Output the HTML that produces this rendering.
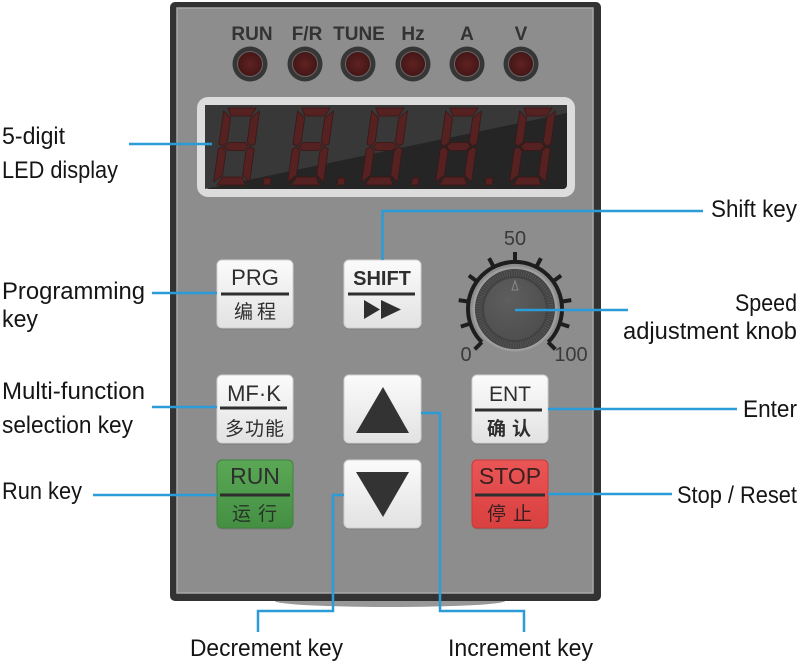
<!DOCTYPE html>
<html>
<head>
<meta charset="utf-8">
<style>
html,body{margin:0;padding:0;background:#fff;}
svg{display:block;}
.lbl{font-family:"Liberation Sans","Noto Sans CJK SC",sans-serif;font-size:24px;fill:#151515;}
.top{font-family:"Liberation Sans",sans-serif;font-size:19px;font-weight:bold;fill:#333;}
.kt{font-family:"Liberation Sans","Noto Sans CJK SC",sans-serif;fill:#2e2e2e;}
.cn{font-family:"Liberation Sans","Noto Sans CJK SC",sans-serif;fill:#2e2e2e;font-size:19px;}
.sc{font-family:"Liberation Sans",sans-serif;font-size:20px;fill:#3a3a3a;}
.seg polygon,.seg rect{fill:#552121;stroke:#3c1616;stroke-width:0.8;}
.bl{stroke:#2b9cd8;stroke-width:2.5;fill:none;}
</style>
</head>
<body>
<svg width="800" height="662" viewBox="0 0 800 662" xmlns="http://www.w3.org/2000/svg">
<defs>
<linearGradient id="kw" x1="0" y1="0" x2="0" y2="1">
<stop offset="0" stop-color="#fbfbfb"/><stop offset="1" stop-color="#e2e2e2"/>
</linearGradient>
<linearGradient id="kg" x1="0" y1="0" x2="0" y2="1">
<stop offset="0" stop-color="#5aa856"/><stop offset="1" stop-color="#458f43"/>
</linearGradient>
<linearGradient id="kr" x1="0" y1="0" x2="0" y2="1">
<stop offset="0" stop-color="#ea5555"/><stop offset="1" stop-color="#d94040"/>
</linearGradient>
<radialGradient id="led" cx="0.5" cy="0.5" r="0.5">
<stop offset="0" stop-color="#602222"/><stop offset="1" stop-color="#441616"/>
</radialGradient>
<radialGradient id="knob" cx="0.4" cy="0.35" r="0.7">
<stop offset="0" stop-color="#5e5e5e"/><stop offset="1" stop-color="#4e4e4e"/>
</radialGradient>
</defs>

<!-- panel shadow -->
<ellipse cx="390" cy="601" rx="115" ry="6" fill="#444" opacity="0.55"/>
<!-- panel -->
<rect x="170" y="2" width="431" height="599" rx="5" fill="#333"/>
<rect x="177" y="8" width="416" height="585" fill="#8d8d8d" stroke="#a9a9a9" stroke-width="1.5"/>

<!-- top indicator labels -->
<text class="top" x="252" y="40" text-anchor="middle">RUN</text>
<text class="top" x="307" y="40" text-anchor="middle">F/R</text>
<text class="top" x="359" y="40" text-anchor="middle">TUNE</text>
<text class="top" x="413" y="40" text-anchor="middle">Hz</text>
<text class="top" x="467" y="40" text-anchor="middle">A</text>
<text class="top" x="521" y="40" text-anchor="middle">V</text>

<!-- LEDs -->
<g>
<circle cx="250" cy="64" r="17.5" fill="#363636"/><circle cx="250" cy="64" r="12.5" fill="url(#led)" stroke="#666" stroke-width="1"/>
<circle cx="305" cy="64" r="17.5" fill="#363636"/><circle cx="305" cy="64" r="12.5" fill="url(#led)" stroke="#666" stroke-width="1"/>
<circle cx="358" cy="64" r="17.5" fill="#363636"/><circle cx="358" cy="64" r="12.5" fill="url(#led)" stroke="#666" stroke-width="1"/>
<circle cx="413" cy="64" r="17.5" fill="#363636"/><circle cx="413" cy="64" r="12.5" fill="url(#led)" stroke="#666" stroke-width="1"/>
<circle cx="467" cy="64" r="17.5" fill="#363636"/><circle cx="467" cy="64" r="12.5" fill="url(#led)" stroke="#666" stroke-width="1"/>
<circle cx="521" cy="64" r="17.5" fill="#363636"/><circle cx="521" cy="64" r="12.5" fill="url(#led)" stroke="#666" stroke-width="1"/>
</g>

<!-- display -->
<rect x="197" y="97" width="378" height="100" rx="11" fill="#dcdcdc"/>
<rect x="205" y="105" width="362" height="84" rx="4" fill="#252525"/>
<polygon points="205,105 567,105 567,113 205,189" fill="#383838"/>

<g class="seg" transform="translate(224,108) skewX(-8)">
<polygon points="4,0 32,0 28,8 8,8"/><polygon points="36,3 36,36 32,38 28,34 28,10"/><polygon points="36,41 36,74 28,67 28,43 32,39"/><polygon points="8,69 28,69 32,77 4,77"/><polygon points="0,41 4,39 8,43 8,67 0,74"/><polygon points="0,3 8,10 8,34 4,38 0,36"/><polygon points="6,38.5 10,34.5 26,34.5 30,38.5 26,42.5 10,42.5"/><rect x="50" y="70" width="7" height="7"/>
</g>
<g class="seg" transform="translate(298,108) skewX(-8)">
<polygon points="4,0 32,0 28,8 8,8"/><polygon points="36,3 36,36 32,38 28,34 28,10"/><polygon points="36,41 36,74 28,67 28,43 32,39"/><polygon points="8,69 28,69 32,77 4,77"/><polygon points="0,41 4,39 8,43 8,67 0,74"/><polygon points="0,3 8,10 8,34 4,38 0,36"/><polygon points="6,38.5 10,34.5 26,34.5 30,38.5 26,42.5 10,42.5"/><rect x="50" y="70" width="7" height="7"/>
</g>
<g class="seg" transform="translate(372,108) skewX(-8)">
<polygon points="4,0 32,0 28,8 8,8"/><polygon points="36,3 36,36 32,38 28,34 28,10"/><polygon points="36,41 36,74 28,67 28,43 32,39"/><polygon points="8,69 28,69 32,77 4,77"/><polygon points="0,41 4,39 8,43 8,67 0,74"/><polygon points="0,3 8,10 8,34 4,38 0,36"/><polygon points="6,38.5 10,34.5 26,34.5 30,38.5 26,42.5 10,42.5"/><rect x="50" y="70" width="7" height="7"/>
</g>
<g class="seg" transform="translate(446,108) skewX(-8)">
<polygon points="4,0 32,0 28,8 8,8"/><polygon points="36,3 36,36 32,38 28,34 28,10"/><polygon points="36,41 36,74 28,67 28,43 32,39"/><polygon points="8,69 28,69 32,77 4,77"/><polygon points="0,41 4,39 8,43 8,67 0,74"/><polygon points="0,3 8,10 8,34 4,38 0,36"/><polygon points="6,38.5 10,34.5 26,34.5 30,38.5 26,42.5 10,42.5"/><rect x="50" y="70" width="7" height="7"/>
</g>
<g class="seg" transform="translate(520,108) skewX(-8)">
<polygon points="4,0 32,0 28,8 8,8"/><polygon points="36,3 36,36 32,38 28,34 28,10"/><polygon points="36,41 36,74 28,67 28,43 32,39"/><polygon points="8,69 28,69 32,77 4,77"/><polygon points="0,41 4,39 8,43 8,67 0,74"/><polygon points="0,3 8,10 8,34 4,38 0,36"/><polygon points="6,38.5 10,34.5 26,34.5 30,38.5 26,42.5 10,42.5"/>
</g>

<!-- keys: shadows -->
<g fill="#707070" opacity="0.6">
<rect x="217" y="261.5" width="76" height="68" rx="5"/>
<rect x="344" y="261.5" width="77" height="68" rx="5"/>
<rect x="217" y="376.5" width="76" height="68" rx="5"/>
<rect x="344" y="376.5" width="77" height="68" rx="5"/>
<rect x="472" y="376.5" width="76" height="68" rx="5"/>
<rect x="217" y="461.5" width="76" height="68" rx="5"/>
<rect x="344" y="461.5" width="77" height="68" rx="5"/>
<rect x="472" y="461.5" width="76" height="68" rx="5"/>
</g>
<g stroke="#cfcfcf" stroke-width="1">
<rect x="217" y="260" width="76" height="68" rx="5" fill="url(#kw)"/>
<rect x="344" y="260" width="77" height="68" rx="5" fill="url(#kw)"/>
<rect x="217" y="375" width="76" height="68" rx="5" fill="url(#kw)"/>
<rect x="344" y="375" width="77" height="68" rx="5" fill="url(#kw)"/>
<rect x="472" y="375" width="76" height="68" rx="5" fill="url(#kw)"/>
<rect x="344" y="460" width="77" height="68" rx="5" fill="url(#kw)"/>
</g>
<rect x="217" y="460" width="76" height="68" rx="5" fill="url(#kg)" stroke="#3f833c" stroke-width="1"/>
<rect x="472" y="460" width="76" height="68" rx="5" fill="url(#kr)" stroke="#c83a3a" stroke-width="1"/>

<!-- key dividers -->
<g fill="#2e2e2e">
<rect x="221" y="292.5" width="68" height="3"/>
<rect x="348" y="292.5" width="67" height="3"/>
<rect x="220" y="406.5" width="67" height="3"/>
<rect x="475" y="408.5" width="67" height="3"/>
<rect x="220" y="493.5" width="70" height="3"/>
<rect x="475" y="493.5" width="70" height="3"/>
</g>

<!-- key text -->
<text class="kt" x="255" y="285" font-size="22" text-anchor="middle">PRG</text>
<text class="cn" x="257" y="318" text-anchor="middle" letter-spacing="4">编程</text>
<text class="kt" x="382" y="285" font-size="20" font-weight="bold" text-anchor="middle">SHIFT</text>
<polygon points="364,300 380,309.5 364,319" fill="#2e2e2e"/>
<polygon points="381,300 401,309.5 381,319" fill="#2e2e2e"/>
<text class="kt" x="254" y="401" font-size="22" text-anchor="middle">MF·K</text>
<text class="cn" x="255" y="435" text-anchor="middle" font-size="20" letter-spacing="1">多功能</text>
<text class="kt" x="510" y="401" font-size="21" text-anchor="middle">ENT</text>
<text class="cn" x="512" y="435" text-anchor="middle" font-weight="bold" letter-spacing="6">确认</text>
<text class="kt" x="255" y="484" font-size="23" text-anchor="middle" fill="#2b3a2b">RUN</text>
<text class="cn" x="258" y="520" text-anchor="middle" letter-spacing="7" style="fill:#263626">运行</text>
<text class="kt" x="510" y="484" font-size="23" text-anchor="middle" style="fill:#3a2020">STOP</text>
<text class="cn" x="513" y="520" text-anchor="middle" letter-spacing="7" style="fill:#3a2020">停止</text>

<!-- arrows -->
<polygon points="383,387 409,433 356,433" fill="#333"/>
<polygon points="356,472 409,472 383,517" fill="#333"/>

<!-- knob -->
<path d="M481.8,342.2 A47,47 0 1 1 548.2,342.2" fill="none" stroke="#1e1e1e" stroke-width="4"/>
<g stroke="#1e1e1e" stroke-width="4">
<line x1="481.8" y1="342.2" x2="474.7" y2="349.3"/>
<line x1="470.3" y1="323.5" x2="460.8" y2="326.6"/>
<line x1="468.6" y1="301.6" x2="458.7" y2="300.1"/>
<line x1="477.0" y1="281.4" x2="468.9" y2="275.5"/>
<line x1="493.7" y1="267.1" x2="489.1" y2="258.2"/>
<line x1="515" y1="262" x2="515" y2="252"/>
<line x1="536.3" y1="267.1" x2="540.9" y2="258.2"/>
<line x1="553.0" y1="281.4" x2="561.1" y2="275.5"/>
<line x1="561.4" y1="301.6" x2="571.3" y2="300.1"/>
<line x1="559.7" y1="323.5" x2="569.2" y2="326.6"/>
<line x1="548.2" y1="342.2" x2="555.3" y2="349.3"/>
</g>
<circle cx="515" cy="309" r="42.5" fill="#9e9e9e"/>
<circle cx="515" cy="309" r="40" fill="#424242"/>
<circle cx="515" cy="309" r="36" fill="none" stroke="#555" stroke-width="6" stroke-dasharray="1 1.4"/>
<circle cx="515" cy="309" r="31" fill="url(#knob)"/>
<polygon points="515,281 512,290 518,290" fill="none" stroke="#8a8a8a" stroke-width="1"/>
<text class="sc" x="515" y="245" text-anchor="middle">50</text>
<text class="sc" x="466" y="361" text-anchor="middle">0</text>
<text class="sc" x="571" y="361" text-anchor="middle">100</text>

<!-- connectors -->
<line class="bl" x1="129" y1="144" x2="212" y2="144"/>
<line class="bl" x1="152" y1="293" x2="217" y2="293"/>
<line class="bl" x1="152" y1="407" x2="217" y2="407"/>
<line class="bl" x1="93" y1="495" x2="217" y2="495"/>
<polyline class="bl" points="382.5,260 382.5,211 703,211"/>
<line class="bl" x1="515" y1="310" x2="628" y2="310"/>
<line class="bl" x1="548" y1="409" x2="737" y2="409"/>
<line class="bl" x1="548" y1="494" x2="672" y2="494"/>
<polyline class="bl" points="344,495 333,495 333,611 258,611 258,632"/>
<polyline class="bl" points="421,413 440,413 440,611 524,611 524,632"/>

<!-- labels -->
<text class="lbl" x="2" y="144" textLength="63" lengthAdjust="spacingAndGlyphs">5-digit</text>
<text class="lbl" x="2" y="178" textLength="116" lengthAdjust="spacingAndGlyphs">LED display</text>
<text class="lbl" x="2" y="299" textLength="143" lengthAdjust="spacingAndGlyphs">Programming</text>
<text class="lbl" x="2" y="327" textLength="36" lengthAdjust="spacingAndGlyphs">key</text>
<text class="lbl" x="2" y="399" textLength="143" lengthAdjust="spacingAndGlyphs">Multi-function</text>
<text class="lbl" x="2" y="433" textLength="131" lengthAdjust="spacingAndGlyphs">selection key</text>
<text class="lbl" x="2" y="499" textLength="80" lengthAdjust="spacingAndGlyphs">Run key</text>

<text class="lbl" x="711" y="217" textLength="86" lengthAdjust="spacingAndGlyphs">Shift key</text>
<text class="lbl" x="735" y="311" textLength="62" lengthAdjust="spacingAndGlyphs">Speed</text>
<text class="lbl" x="623" y="339" textLength="174" lengthAdjust="spacingAndGlyphs">adjustment knob</text>
<text class="lbl" x="743" y="417" textLength="54" lengthAdjust="spacingAndGlyphs">Enter</text>
<text class="lbl" x="677" y="503" textLength="120" lengthAdjust="spacingAndGlyphs">Stop / Reset</text>

<text class="lbl" x="190" y="656" textLength="153" lengthAdjust="spacingAndGlyphs">Decrement key</text>
<text class="lbl" x="448" y="656" textLength="145" lengthAdjust="spacingAndGlyphs">Increment key</text>
</svg>
</body>
</html>
